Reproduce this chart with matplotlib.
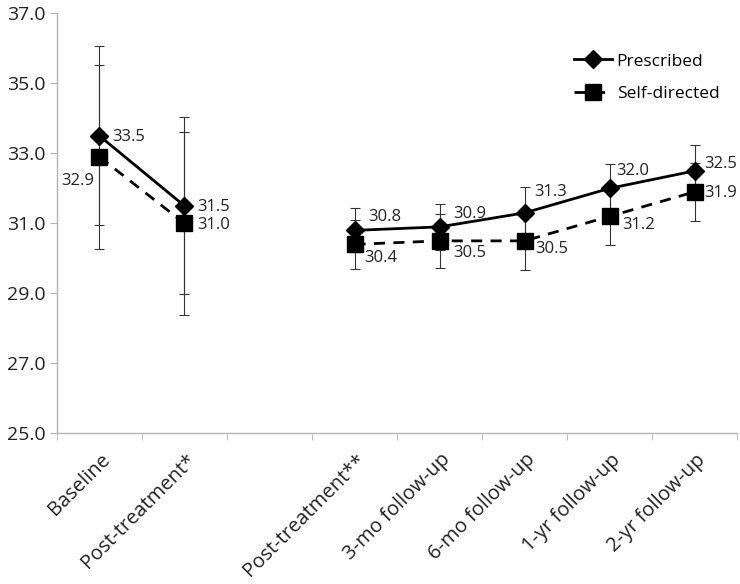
import numpy as np
import matplotlib.pyplot as plt
import matplotlib.transforms as mtransforms

# --- Data ---
categories = ["Baseline", "Post-treatment*", "", "Post-treatment**",
              "3-mo follow-up", "6-mo follow-up", "1-yr follow-up", "2-yr follow-up"]
prescribed = [33.5, 31.5, np.nan, 30.8, 30.9, 31.3, 32.0, 32.5]
self_directed = [32.9, 31.0, np.nan, 30.4, 30.5, 30.5, 31.2, 31.9]
prescribed_err = [2.56, 2.53, np.nan, 0.63, 0.66, 0.73, 0.70, 0.74]
self_directed_err = [2.63, 2.61, np.nan, 0.69, 0.77, 0.83, 0.81, 0.83]
yticks = [25.0, 27.0, 29.0, 31.0, 33.0, 35.0, 37.0]

# label offsets in points (placement only)
p_off = [(9, -1), (9, -1), None, (10, 9.5), (10, 9.5), (7, 15), (4.5, 12.5), (7, 5)]
s_off = [(-4, -17), (9, -1), None, (7, -10), (10, -8.5), (8, -5.5), (9.5, -6), (7, -0.5)]

plt.rcParams['font.family'] = ['Open Sans', 'DejaVu Sans']

x = np.arange(len(categories))
fig = plt.figure(figsize=(7.4, 5.84), dpi=100)
ax = fig.add_axes([0.077, 0.258, 0.919, 0.719])

gray = '#b3b3b3'
ax.errorbar(x, prescribed, yerr=prescribed_err, fmt='none', ecolor='#333333',
            elinewidth=0.8, capsize=3.5, capthick=0.8, zorder=2)
ax.errorbar(x, self_directed, yerr=self_directed_err, fmt='none', ecolor='#333333',
            elinewidth=0.8, capsize=3.5, capthick=0.8, zorder=2)
ax.plot(x, prescribed, color='black', linewidth=2.0, marker='D', markersize=9.5,
        label='Prescribed', zorder=4)
ax.plot(x, self_directed, color='black', linewidth=2.0, linestyle=(0, (4, 3)),
        marker='s', markersize=11, label='Self-directed', zorder=3)

for i in range(len(categories)):
    if not np.isnan(prescribed[i]):
        ax.annotate(f"{prescribed[i]:.1f}", (x[i], prescribed[i]), xytext=p_off[i],
                    textcoords='offset points', fontsize=12, va='center', ha='left',
                    color='#222222')
    if not np.isnan(self_directed[i]):
        ha = 'right' if s_off[i][0] < 0 else 'left'
        ax.annotate(f"{self_directed[i]:.1f}", (x[i], self_directed[i]), xytext=s_off[i],
                    textcoords='offset points', fontsize=12, va='center', ha=ha,
                    color='#222222')

ax.set_xlim(-0.5, len(categories) - 0.5)
ax.set_ylim(25, 37)
ax.set_yticks(yticks)
ax.set_yticklabels([f"{v:.1f}" for v in yticks], fontsize=14, color='#222222')

ax.set_xticks(x)
ax.set_xticklabels(categories, rotation=45, ha='right', va='center',
                   rotation_mode='anchor', fontsize=14.5, color='#222222')
ax.tick_params(axis='x', length=0, pad=17)
shift = mtransforms.ScaledTranslation(8 / 100, 0, fig.dpi_scale_trans)
for lab in ax.get_xticklabels():
    lab.set_transform(lab.get_transform() + shift)
ax.set_xticks(np.arange(-0.5, len(categories), 1.0), minor=True)
ax.tick_params(axis='x', which='minor', length=5, color=gray, direction='out')
ax.tick_params(axis='y', length=5, color=gray, direction='out', pad=3)

for s in ['top', 'right']:
    ax.spines[s].set_visible(False)
for s in ['left', 'bottom']:
    ax.spines[s].set_color(gray)
    ax.spines[s].set_linewidth(1.0)

ax.legend(loc='upper right', bbox_to_anchor=(0.997, 0.942), frameon=False, fontsize=12.5,
          handlelength=2.2, labelspacing=0.95, handletextpad=0.25)

fig.savefig('out.png', dpi=100)
